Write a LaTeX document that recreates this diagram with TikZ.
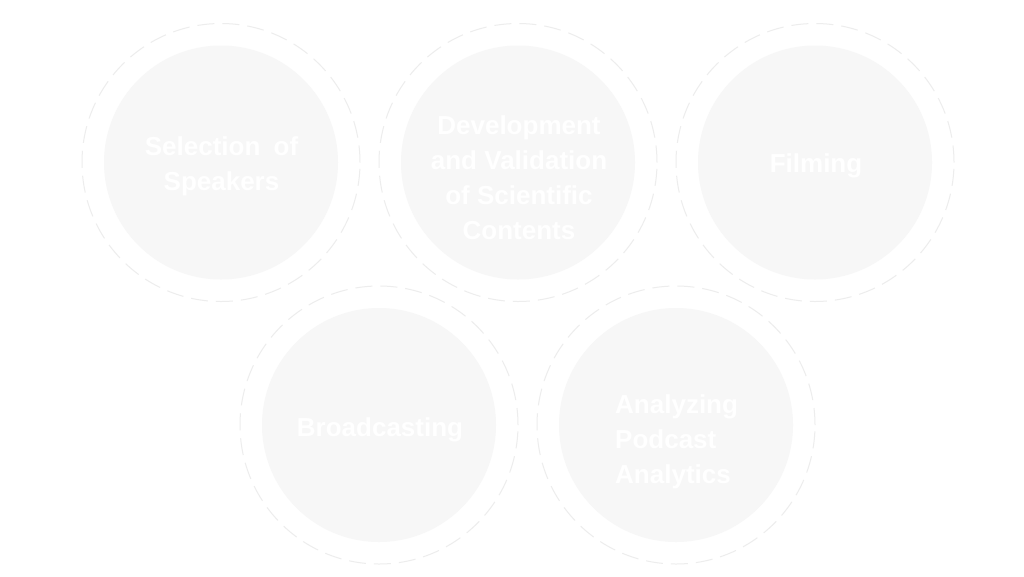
\documentclass[tikz,border=0pt]{standalone}
\usepackage{fontspec}
\setmainfont{Liberation Sans}
\begin{document}
\begin{tikzpicture}[x=1pt,y=-1pt,
  disc/.style={circle,fill=discfill,draw=none,minimum size=234pt,inner sep=0pt},
  ring/.style={circle,draw=ringline,line width=1pt,dash pattern=on 17pt off 8pt,minimum size=278pt,inner sep=0pt},
  lbl/.style={text=white,font=\fontsize{26}{35}\selectfont\bfseries,inner sep=0pt}]
\definecolor{discfill}{HTML}{F7F7F7}
\definecolor{ringline}{HTML}{EDEDED}
\useasboundingbox (0,0) rectangle (1024,576);
\fill[white] (0,0) rectangle (1024,576);
% rings
\node[ring] (r1) at (221,162.5) {};
\node[ring] (r2) at (518,162.5) {};
\node[ring] (r3) at (815,162.5) {};
\node[ring] (r4) at (379,425) {};
\node[ring] (r5) at (676,425) {};
% discs
\node[disc] (d1) at (221,162.5) {};
\node[disc] (d2) at (518,162.5) {};
\node[disc] (d3) at (815,162.5) {};
\node[disc] (d4) at (379,425) {};
\node[disc] (d5) at (676,425) {};
% labels
\node[lbl,align=center] (t1) at (221.5,166.5) {Selection\hspace{6pt} of\\Speakers};
\node[lbl,align=center] (t2) at (519,178) {Development\\and Validation\\of Scientific\\Contents};
\node[lbl] (t3) at (816,166) {Filming};
\node[lbl] (t4) at (380,429.5) {Broadcasting};
\node[lbl,align=left,anchor=west] (t5) at (615,442) {Analyzing\\Podcast\\Analytics};
\end{tikzpicture}
\end{document}
